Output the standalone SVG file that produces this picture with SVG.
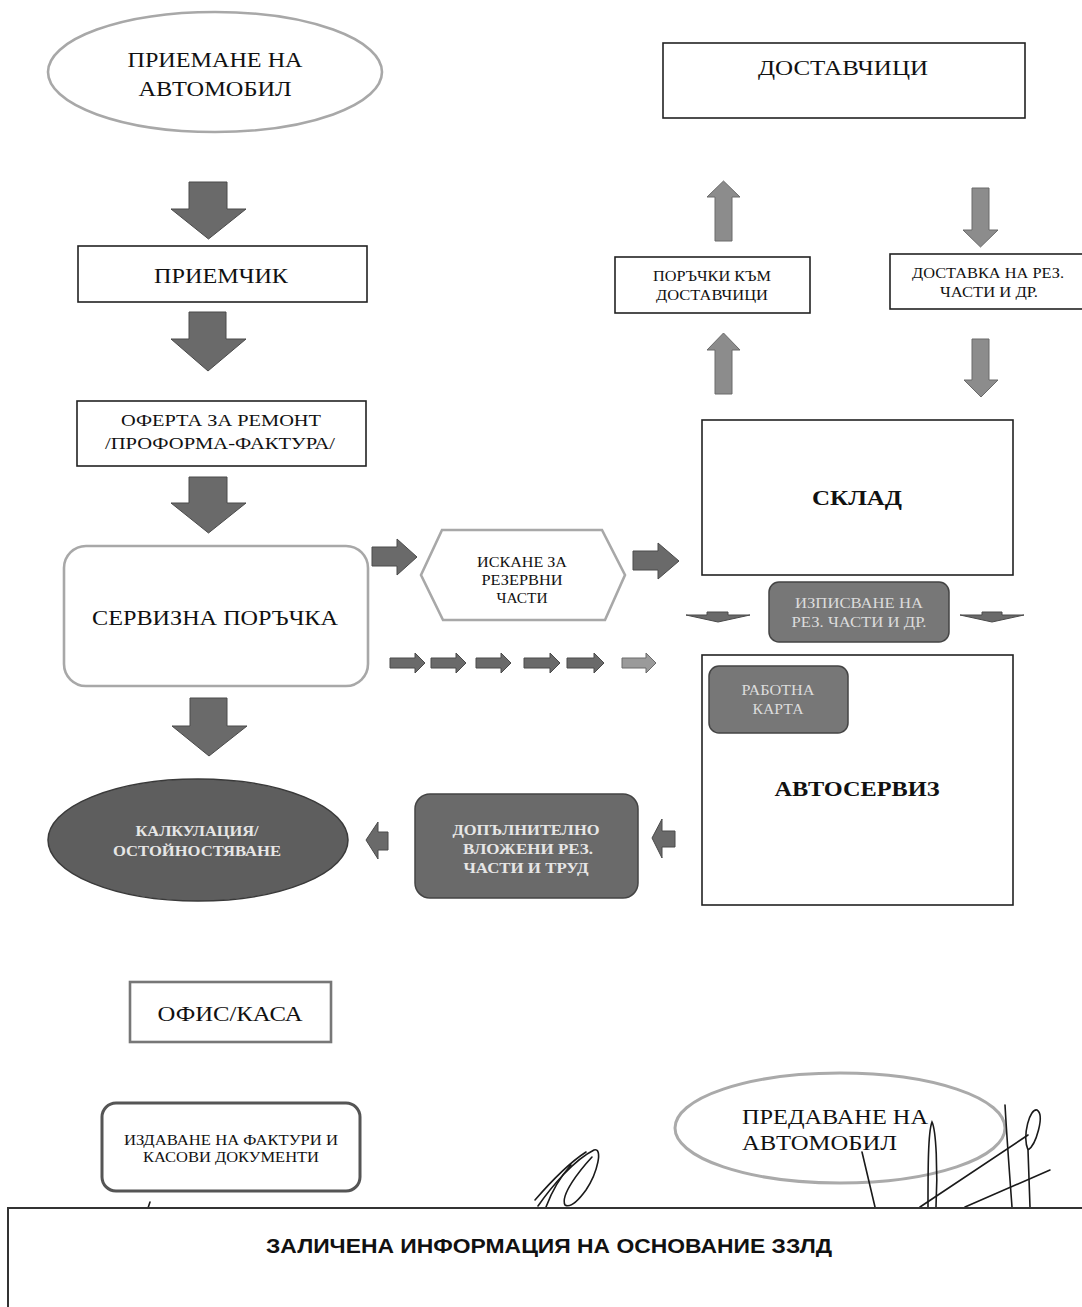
<svg xmlns="http://www.w3.org/2000/svg" width="1082" height="1307" viewBox="0 0 1082 1307">
<style>
.t{font-family:"Liberation Serif","Times New Roman",serif;fill:#111;text-anchor:middle}
.tb{font-family:"Liberation Serif","Times New Roman",serif;font-weight:bold;fill:#111;text-anchor:middle}
.tw{font-family:"Liberation Serif","Times New Roman",serif;font-weight:bold;fill:#e6e6e6;text-anchor:middle}
.tl{font-family:"Liberation Serif","Times New Roman",serif;font-weight:normal;fill:#dcdcdc;text-anchor:middle}
.ts{font-family:"Liberation Serif","Times New Roman",serif;fill:#111;text-anchor:start}
.box{fill:#fff;stroke:#222;stroke-width:1.6}
.lbox{fill:#fff;stroke:#a8a8a8;stroke-width:2.6}
.dbox{fill:#6a6a6a;stroke:#444;stroke-width:1.5}
.arr{fill:#6a6a6a;stroke:#4a4a4a;stroke-width:1}
.arrl{fill:#8c8c8c;stroke:#6a6a6a;stroke-width:1}
.sig{fill:none;stroke:#1a1a1a;stroke-width:1.6;stroke-linecap:round}
</style>
<rect width="1082" height="1307" fill="#fff"/>

<g id="priemane">
<ellipse cx="215" cy="72" rx="167" ry="60" class="lbox"/>
<text class="t" x="215" y="67" font-size="22" textLength="175" lengthAdjust="spacingAndGlyphs">ПРИЕМАНЕ НА</text>
<text class="t" x="215" y="96" font-size="22" textLength="153" lengthAdjust="spacingAndGlyphs">АВТОМОБИЛ</text>
</g>

<g id="dostavchitsi">
<rect x="663" y="43" width="362" height="75" class="box"/>
<text class="t" x="843" y="75" font-size="22" textLength="170" lengthAdjust="spacingAndGlyphs">ДОСТАВЧИЦИ</text>
</g>

<g id="priemchik">
<rect x="78" y="246" width="289" height="56" class="box"/>
<text class="t" x="221" y="283" font-size="20" textLength="134" lengthAdjust="spacingAndGlyphs">ПРИЕМЧИК</text>
</g>

<g id="porachki">
<rect x="615" y="257" width="195" height="56" class="box"/>
<text class="t" x="712" y="281" font-size="14" textLength="118" lengthAdjust="spacingAndGlyphs">ПОРЪЧКИ КЪМ</text>
<text class="t" x="712" y="300" font-size="14" textLength="112" lengthAdjust="spacingAndGlyphs">ДОСТАВЧИЦИ</text>
</g>

<g id="dostavka">
<rect x="890" y="254" width="196" height="55" class="box"/>
<text class="t" x="988" y="278" font-size="14" textLength="152" lengthAdjust="spacingAndGlyphs">ДОСТАВКА НА РЕЗ.</text>
<text class="t" x="989" y="297" font-size="14" textLength="98" lengthAdjust="spacingAndGlyphs">ЧАСТИ И ДР.</text>
</g>

<g id="oferta">
<rect x="77" y="401" width="289" height="65" class="box"/>
<text class="t" x="221" y="426" font-size="16" textLength="200" lengthAdjust="spacingAndGlyphs">ОФЕРТА ЗА РЕМОНТ</text>
<text class="t" x="220" y="449" font-size="16" textLength="230" lengthAdjust="spacingAndGlyphs">/ПРОФОРМА-ФАКТУРА/</text>
</g>

<g id="sklad">
<rect x="702" y="420" width="311" height="155" class="box"/>
<text class="tb" x="857" y="505" font-size="22" textLength="90" lengthAdjust="spacingAndGlyphs">СКЛАД</text>
</g>

<g id="servizna">
<rect x="64" y="546" width="304" height="140" rx="22" class="lbox"/>
<text class="t" x="215" y="625" font-size="21" textLength="246" lengthAdjust="spacingAndGlyphs">СЕРВИЗНА ПОРЪЧКА</text>
</g>

<g id="iskane">
<polygon points="421,575 442,530 602,530 625,575 605,620 443,620" class="lbox"/>
<text class="t" x="522" y="567" font-size="14" textLength="90" lengthAdjust="spacingAndGlyphs">ИСКАНЕ ЗА</text>
<text class="t" x="522" y="585" font-size="14" textLength="81" lengthAdjust="spacingAndGlyphs">РЕЗЕРВНИ</text>
<text class="t" x="522" y="603" font-size="14" textLength="51" lengthAdjust="spacingAndGlyphs">ЧАСТИ</text>
</g>

<g id="izpisvane">
<rect x="769" y="582" width="180" height="60" rx="10" class="dbox" style="fill:#777"/>
<text class="tl" x="859" y="608" font-size="14" textLength="128" lengthAdjust="spacingAndGlyphs">ИЗПИСВАНЕ НА</text>
<text class="tl" x="859" y="627" font-size="14" textLength="135" lengthAdjust="spacingAndGlyphs">РЕЗ. ЧАСТИ И ДР.</text>
</g>

<g id="avtoservis">
<rect x="702" y="655" width="311" height="250" class="box"/>
<text class="tb" x="857" y="796" font-size="22" textLength="165" lengthAdjust="spacingAndGlyphs">АВТОСЕРВИЗ</text>
</g>

<g id="rabotna">
<rect x="709" y="666" width="139" height="67" rx="10" class="dbox" style="fill:#777"/>
<text class="tl" x="778" y="695" font-size="14" textLength="73" lengthAdjust="spacingAndGlyphs">РАБОТНА</text>
<text class="tl" x="778" y="714" font-size="14" textLength="51" lengthAdjust="spacingAndGlyphs">КАРТА</text>
</g>

<g id="kalkulacia">
<ellipse cx="198" cy="840" rx="150" ry="61" fill="#5e5e5e" stroke="#3a3a3a" stroke-width="1.5"/>
<text class="tw" x="197" y="836" font-size="14" textLength="123" lengthAdjust="spacingAndGlyphs">КАЛКУЛАЦИЯ/</text>
<text class="tw" x="197" y="856" font-size="14" textLength="168" lengthAdjust="spacingAndGlyphs">ОСТОЙНОСТЯВАНЕ</text>
</g>

<g id="dopalnitelno">
<rect x="415" y="794" width="223" height="104" rx="15" class="dbox"/>
<text class="tw" x="526" y="835" font-size="14" textLength="147" lengthAdjust="spacingAndGlyphs">ДОПЪЛНИТЕЛНО</text>
<text class="tw" x="528" y="854" font-size="14" textLength="130" lengthAdjust="spacingAndGlyphs">ВЛОЖЕНИ РЕЗ.</text>
<text class="tw" x="526" y="873" font-size="14" textLength="125" lengthAdjust="spacingAndGlyphs">ЧАСТИ И ТРУД</text>
</g>

<g id="ofis">
<rect x="130" y="982" width="201" height="60" fill="#fff" stroke="#777" stroke-width="2.6"/>
<text class="t" x="230" y="1021" font-size="22" textLength="145" lengthAdjust="spacingAndGlyphs">ОФИС/КАСА</text>
</g>

<g id="izdavane">
<rect x="102" y="1103" width="258" height="88" rx="14" fill="#fff" stroke="#555" stroke-width="3"/>
<text class="t" x="231" y="1145" font-size="14" textLength="214" lengthAdjust="spacingAndGlyphs">ИЗДАВАНЕ НА ФАКТУРИ И</text>
<text class="t" x="231" y="1162" font-size="14" textLength="176" lengthAdjust="spacingAndGlyphs">КАСОВИ ДОКУМЕНТИ</text>
</g>

<g id="predavane">
<ellipse cx="840" cy="1128" rx="165" ry="55" fill="none" stroke="#aaa" stroke-width="3"/>
<text class="ts" x="742" y="1124" font-size="20" textLength="186" lengthAdjust="spacingAndGlyphs">ПРЕДАВАНЕ НА</text>
<text class="ts" x="742" y="1150" font-size="20" textLength="155" lengthAdjust="spacingAndGlyphs">АВТОМОБИЛ</text>
</g>

<g id="connectors">
<path class="arr" d="M189,182 H227 V209 H246 L208.5,239 L171,209 H189 Z"/>
<path class="arr" d="M189,312 H226 V339 H246 L208,371 L171,339 H189 Z"/>
<path class="arr" d="M189,477 H227 V503 H246 L208.5,533 L171,503 H189 Z"/>
<path class="arr" d="M190,698 H227 V726 H247 L209,756 L172,726 H190 Z"/>
<path class="arrl" d="M723.5,181 L740,197 H732 V241 H715 V197 H707 Z"/>
<path class="arrl" d="M723.5,333 L740,350 H732 V394 H715 V350 H707 Z"/>
<path class="arrl" d="M972,188 H989 V230 H998 L980.5,247 L963,230 H972 Z"/>
<path class="arrl" d="M972,339 H989 V380 H998 L981,397 L964,380 H972 Z"/>
<path class="arr" d="M372,547 H397 V539 L417,557 L397,575 V566 H372 Z"/>
<path class="arr" d="M633,551 H658 V543 L679,561 L658,579 V570 H633 Z"/>
<path class="arr" d="M707,612 H728 V615 H750 L718,622 L686,615 H707 Z"/>
<path class="arr" d="M982,612 H1002 V615 H1024 L992,622 L960,615 H982 Z"/>
<path class="arr" d="M390,658 H415 V653 L425,663 L415,673 V668 H390 Z"/>
<path class="arr" d="M431,658 H456 V653 L466,663 L456,673 V668 H431 Z"/>
<path class="arr" d="M476,658 H501 V653 L511,663 L501,673 V668 H476 Z"/>
<path class="arr" d="M524,658 H550 V653 L560,663 L550,673 V668 H524 Z"/>
<path class="arr" d="M567,658 H594 V653 L604,663 L594,673 V668 H567 Z"/>
<path class="arrl" d="M622,658 H646 V653 L656,663 L646,673 V668 H622 Z" style="fill:#9a9a9a"/>
<path class="arr" d="M388,832 H378 V822 L366,840 L378,859 V850 H388 Z"/>
<path class="arr" d="M675,831 H662 V819 L652,838 L662,858 V847 H675 Z"/>
</g>

<g id="signatures">
<path class="sig" d="M148,1208 L150,1202"/>
<path class="sig" d="M538,1206 C552,1186 574,1160 594,1150 C603,1147 598,1172 586,1190 C578,1201 570,1208 565,1205 C560,1195 580,1170 592,1157"/>
<path class="sig" d="M535,1200 C548,1185 566,1165 586,1152 M546,1207 C552,1191 561,1176 571,1165"/>
<path class="sig" d="M862,1152 L875,1207"/>
<path class="sig" d="M928,1207 C928,1170 928,1132 932,1122 C936,1130 938,1170 936,1207"/>
<path class="sig" d="M920,1207 L1028,1135"/>
<path class="sig" d="M965,1207 L1050,1170"/>
<path class="sig" d="M1005,1105 C1007,1140 1010,1180 1012,1207"/>
<path class="sig" d="M1030,1207 L1028,1150 C1022,1135 1030,1108 1037,1110 C1045,1115 1036,1145 1028,1150"/>
</g>

<g id="redaction">
<rect x="8" y="1208" width="1090" height="110" fill="#fff" stroke="#333" stroke-width="2"/>
<text x="549" y="1253" font-family="'Liberation Sans',Arial,sans-serif" font-weight="bold" font-size="21" text-anchor="middle" fill="#111" textLength="566" lengthAdjust="spacingAndGlyphs">ЗАЛИЧЕНА ИНФОРМАЦИЯ НА ОСНОВАНИЕ ЗЗЛД</text>
</g>
</svg>
